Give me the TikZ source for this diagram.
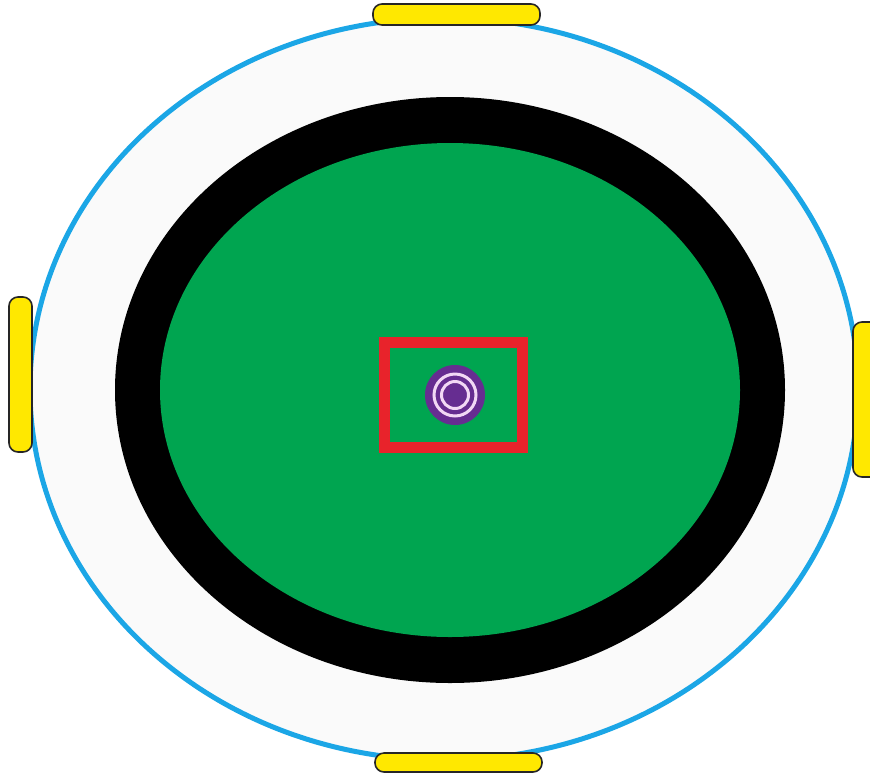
\documentclass[tikz,border=0pt]{standalone}
\usetikzlibrary{shapes.geometric}
\definecolor{skyb}{HTML}{1BA6E6}
\definecolor{pitch}{HTML}{00A550}
\definecolor{redb}{HTML}{E8232B}
\definecolor{purp}{HTML}{662D91}
\definecolor{ring}{HTML}{F2D8F5}
\definecolor{yel}{HTML}{FFE800}
\definecolor{offw}{HTML}{FAFAFA}
\tikzset{
  bar/.style={fill=yel, draw=black!85, line width=1.6pt, rounded corners=9pt},
}
\begin{document}
\begin{tikzpicture}[x=1pt,y=-1pt]
\useasboundingbox[fill=white] (0,0) rectangle (870,777);
% outer boundary
\node[draw=skyb, line width=5pt, fill=offw, ellipse, minimum width=828pt, minimum height=742pt, inner sep=0pt] (field) at (444,389) {};
% black ring
\fill[black] (450,390) ellipse [x radius=335, y radius=293];
\fill[pitch] (450,390) ellipse [x radius=290, y radius=247];
% red square
\draw[redb, line width=11pt] (384,342) rectangle (522,447);
% target
\fill[purp] (455,395) circle [radius=30];
\draw[ring, line width=3pt] (455,395) circle [radius=21];
\draw[ring, line width=3pt] (455,395) circle [radius=13.5];
% yellow bars
\draw[bar] (373,4) rectangle (540,25);
\draw[bar] (375,753) rectangle (542,772);
\draw[bar] (9,297) rectangle (32,452);
\draw[bar] (853,322) rectangle (885,477);
\end{tikzpicture}
\end{document}
